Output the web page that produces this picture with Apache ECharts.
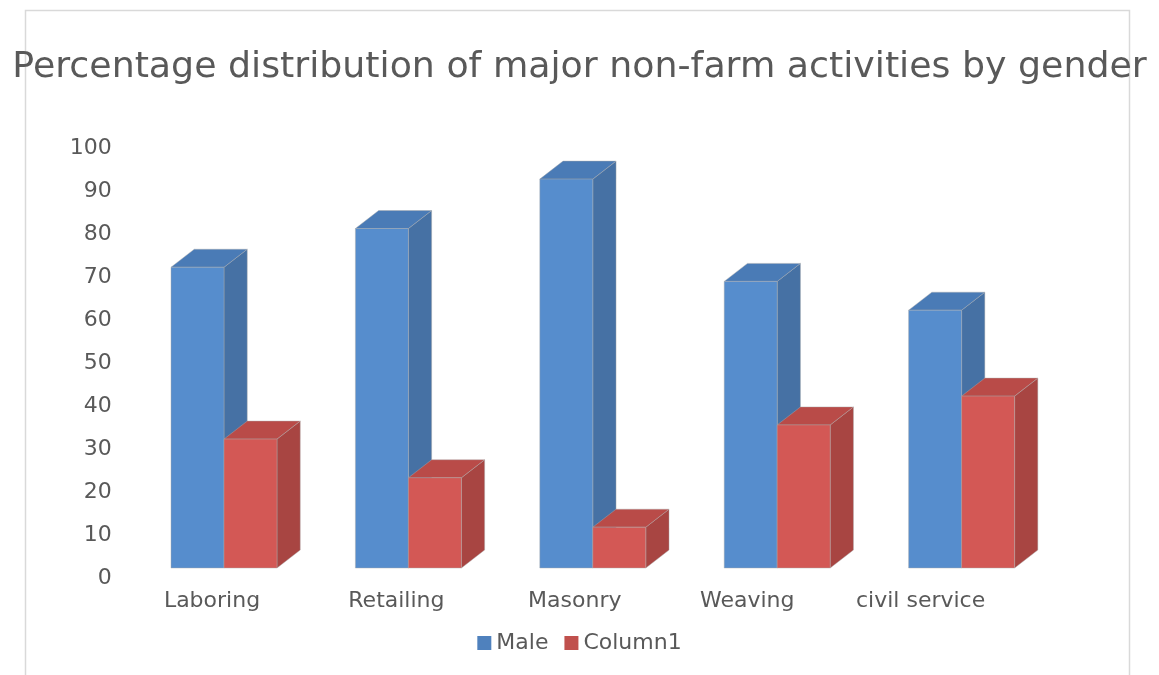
<!DOCTYPE html>
<html>
<head>
<meta charset="utf-8">
<title>Percentage distribution of major non-farm activities by gender</title>
<script src="https://cdn.jsdelivr.net/npm/echarts@6/dist/echarts.min.js"></script>
<style>
  html, body { margin: 0; padding: 0; background: #ffffff; }
  #chart { width: 1159px; height: 675px; }
</style>
</head>
<body>
<div id="chart"></div>
<script>
// Activities and shares (%) per gender
const categories = ['Laboring', 'Retailing', 'Masonry', 'Weaving', 'civil service'];
const maleValues = [70, 79, 90.5, 66.7, 60];
const column1Values = [30, 21, 9.5, 33.3, 40];
const seriesNames = ['Male', 'Column1'];
const yTicks = { min: 0, max: 100, interval: 10 };

// Face colours for the pseudo-3D columns: front, top, side
const palette = {
  Male:    { front: '#568DCD', top: '#4A7BB6', side: '#4671A4', legend: '#4F81BD' },
  Column1: { front: '#D35855', top: '#B94B48', side: '#A84542', legend: '#C0504D' }
};

const FONT = 'DejaVu Sans';
const TEXT = '#595959';

// Geometry of each column as fractions of the category band
const BAR_W = 0.2874;   // width of one front face
const DEPTH_X = 0.126;  // horizontal depth offset
const DEPTH_Y = 18;     // vertical depth offset (px)
const LIFT = 10;        // front face sits above the label baseline

function makeRender(name, side) {
  const c = palette[name];
  return function (params, api) {
    const i = api.value(0);
    const v = api.value(1);
    const base = api.coord([i, 0]);
    const top = api.coord([i, v]);
    const band = api.size([1, 0])[0];
    const w = band * BAR_W;
    const dx = band * DEPTH_X;
    const dy = DEPTH_Y;
    const x0 = side === 0 ? base[0] - w : base[0];
    const x1 = x0 + w;
    const yb = base[1] - LIFT;
    const yt = top[1] - LIFT;
    const edge = { stroke: 'rgba(170,170,170,0.55)', lineWidth: 0.8 };
    return {
      type: 'group',
      children: [
        { type: 'polygon', shape: { points: [[x1, yb], [x1 + dx, yb - dy], [x1 + dx, yt - dy], [x1, yt]] },
          style: Object.assign({ fill: c.side }, edge) },
        { type: 'polygon', shape: { points: [[x0, yt], [x1, yt], [x1 + dx, yt - dy], [x0 + dx, yt - dy]] },
          style: Object.assign({ fill: c.top }, edge) },
        { type: 'polygon', shape: { points: [[x0, yb], [x1, yb], [x1, yt], [x0, yt]] },
          style: Object.assign({ fill: c.front }, edge) }
      ]
    };
  };
}

// Per-label nudges (px, negative = left) for the category captions
const labelShift = [-12, -12, -18, -30, -41];
const rich = {};
labelShift.forEach(function (d, k) {
  rich['c' + k] = {
    fontFamily: FONT, fontSize: 22, color: TEXT,
    padding: d < 0 ? [0, -2 * d, 0, 0] : [0, 0, 0, 2 * d]
  };
});

const chart = echarts.init(document.getElementById('chart'));
chart.setOption({
  animation: false,
  backgroundColor: '#ffffff',
  graphic: [{
    type: 'rect', z: -10, silent: true,
    shape: { x: 25.5, y: 10.5, width: 1104, height: 720 },
    style: { fill: 'none', stroke: '#d9d9d9', lineWidth: 1.5 }
  }],
  title: {
    text: 'Percentage distribution of major non-farm activities by gender',
    left: 'center', top: 45,
    textStyle: { fontFamily: FONT, fontSize: 36.3, fontWeight: 'normal', color: TEXT }
  },
  legend: {
    bottom: 16, left: 'center',
    itemWidth: 14, itemHeight: 14, itemGap: 16,
    textStyle: { fontFamily: FONT, fontSize: 22, color: TEXT },
    data: seriesNames.map(function (n) {
      return { name: n, icon: 'rect', itemStyle: { color: palette[n].legend } };
    })
  },
  grid: { left: 131.8, right: 105.2, top: 148.3, bottom: 97 },
  xAxis: {
    type: 'category',
    data: categories,
    axisLine: { show: false },
    axisTick: { show: false },
    axisLabel: {
      margin: 12,
      formatter: function (val, idx) { return '{c' + idx + '|' + val + '}'; },
      rich: rich
    }
  },
  yAxis: {
    type: 'value',
    min: yTicks.min, max: yTicks.max, interval: yTicks.interval,
    axisLine: { show: false },
    axisTick: { show: false },
    splitLine: { show: false },
    axisLabel: { margin: 20, padding: [4, 0, 0, 0], fontFamily: FONT, fontSize: 22, color: TEXT }
  },
  series: [
    {
      name: seriesNames[0], type: 'custom',
      itemStyle: { color: palette.Male.legend },
      encode: { x: 0, y: 1 },
      renderItem: makeRender('Male', 0),
      data: maleValues.map(function (v, i) { return [i, v]; })
    },
    {
      name: seriesNames[1], type: 'custom',
      itemStyle: { color: palette.Column1.legend },
      encode: { x: 0, y: 1 },
      renderItem: makeRender('Column1', 1),
      data: column1Values.map(function (v, i) { return [i, v]; })
    }
  ]
});
</script>
</body>
</html>
